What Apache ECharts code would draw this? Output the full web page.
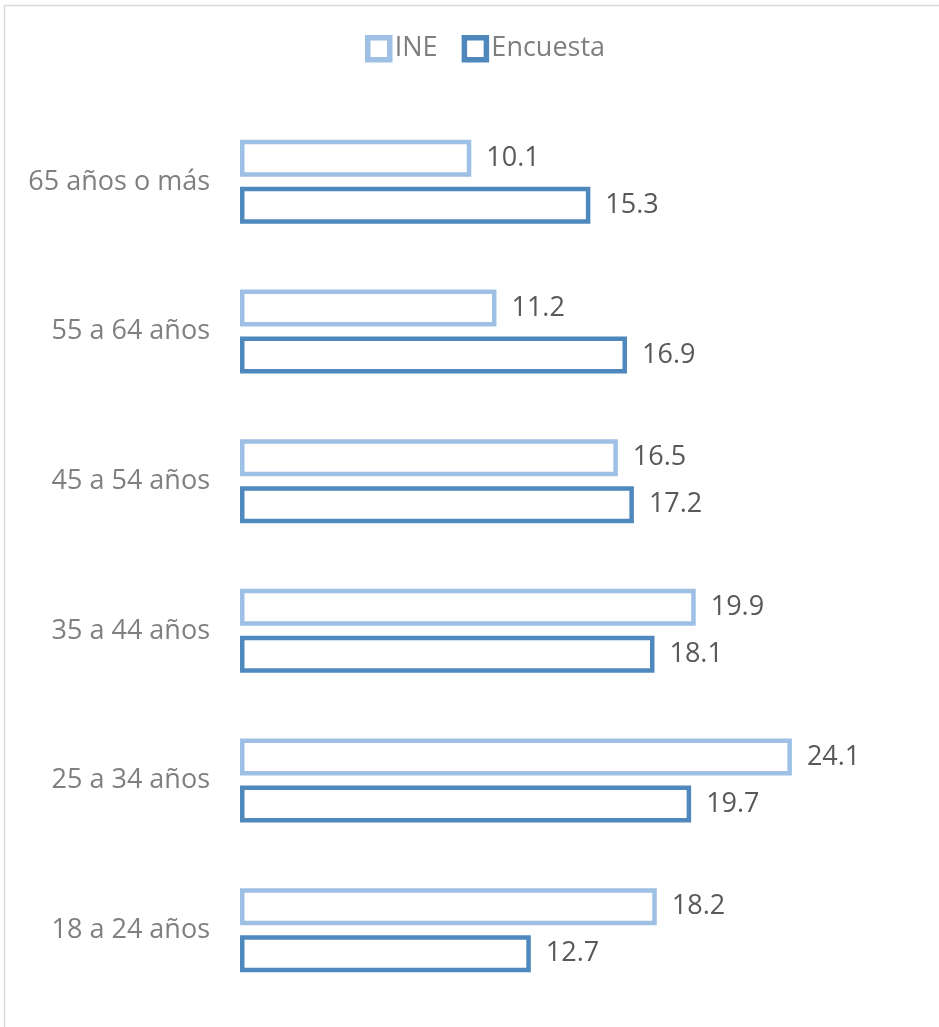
<!DOCTYPE html>
<html>
<head>
<meta charset="utf-8">
<script src="https://cdn.jsdelivr.net/npm/echarts@6/dist/echarts.min.js"></script>
<style>
html,body{margin:0;padding:0;background:#fff;}
#chart{width:939px;height:1027px;}
</style>
</head>
<body>
<div id="chart"></div>
<script>
const categories = ['18 a 24 años','25 a 34 años','35 a 44 años','45 a 54 años','55 a 64 años','65 años o más'];
const ineValues = [18.2, 24.1, 19.9, 16.5, 11.2, 10.1];
const encuestaValues = [12.7, 19.7, 18.1, 17.2, 16.9, 15.3];
const seriesNames = ['INE', 'Encuesta'];

const FONT = '"Open Sans", sans-serif';
const chart = echarts.init(document.getElementById('chart'));
const labelCfg = {show:true, position:'right', distance:15, color:'#595959', fontSize:27, fontFamily:FONT};
chart.setOption({
  animation:false,
  graphic:[{type:'rect', shape:{x:4.5,y:5.5,width:1000,height:1100}, style:{fill:'none', stroke:'#d9d9d9', lineWidth:1.5}}],
  legend:{
    data:seriesNames, top:30, left:360, icon:'rect', itemWidth:22, itemHeight:22, itemGap:24,
    itemStyle:{borderWidth:5.5},
    textStyle:{color:'#7f7f7f', fontSize:27, fontFamily:FONT}
  },
  grid:{left:240, right:12, top:107, bottom:22},
  xAxis:{type:'value', min:0, max:30, show:false},
  yAxis:{type:'category', data:categories, axisLine:{show:false}, axisTick:{show:false},
    axisLabel:{color:'#7f7f7f', fontSize:27, fontFamily:FONT, margin:30}},
  series:[
    {name:seriesNames[0], type:'bar', data:ineValues, barWidth:37, barGap:'27%',
     itemStyle:{color:'#ffffff', borderColor:'#9dc0e4', borderWidth:4.5}, label:labelCfg},
    {name:seriesNames[1], type:'bar', data:encuestaValues, barWidth:37,
     itemStyle:{color:'#ffffff', borderColor:'#4f88bd', borderWidth:4.5}, label:labelCfg}
  ]
});
</script>
</body>
</html>
